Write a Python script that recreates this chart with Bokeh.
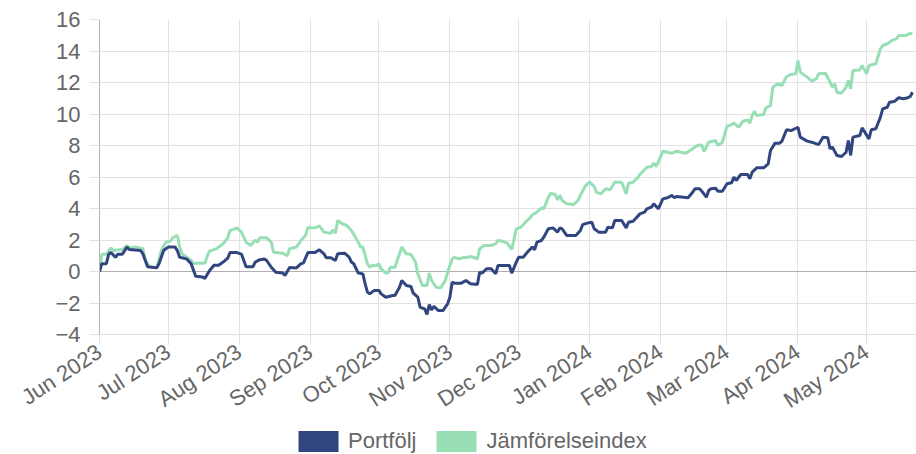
import pandas as pd
from bokeh.plotting import figure
from bokeh.layouts import column
from bokeh.models import ColumnDataSource, FixedTicker, Legend, LegendItem, Range1d, Grid
from bokeh.embed import file_html
from bokeh.resources import INLINE

# ---------------- data ----------------
portfolj_dates = [
    "2023-06-01", "2023-06-02", "2023-06-04", "2023-06-05", "2023-06-06", "2023-06-08", "2023-06-09",
    "2023-06-11", "2023-06-13", "2023-06-14", "2023-06-19", "2023-06-20", "2023-06-22", "2023-06-26",
    "2023-06-27", "2023-06-29", "2023-07-01", "2023-07-04", "2023-07-05", "2023-07-06", "2023-07-09",
    "2023-07-11", "2023-07-13", "2023-07-16", "2023-07-17", "2023-07-19", "2023-07-21", "2023-07-23",
    "2023-07-25", "2023-07-27", "2023-07-28", "2023-07-31", "2023-08-02", "2023-08-04", "2023-08-07",
    "2023-08-08", "2023-08-10", "2023-08-12", "2023-08-13", "2023-08-15", "2023-08-17", "2023-08-20",
    "2023-08-21", "2023-08-23", "2023-08-26", "2023-08-28", "2023-08-29", "2023-08-31", "2023-09-03",
    "2023-09-05", "2023-09-07", "2023-09-08", "2023-09-10", "2023-09-12", "2023-09-13", "2023-09-16",
    "2023-09-18", "2023-09-19", "2023-09-20", "2023-09-22", "2023-09-24", "2023-09-25", "2023-09-26",
    "2023-09-27", "2023-09-29", "2023-10-01", "2023-10-02", "2023-10-04", "2023-10-07", "2023-10-08",
    "2023-10-10", "2023-10-11", "2023-10-13", "2023-10-15", "2023-10-16", "2023-10-18", "2023-10-19",
    "2023-10-21", "2023-10-22", "2023-10-23", "2023-10-24", "2023-10-25", "2023-10-27", "2023-10-29",
    "2023-10-31", "2023-11-01", "2023-11-02", "2023-11-03", "2023-11-06", "2023-11-08", "2023-11-10",
    "2023-11-13", "2023-11-14", "2023-11-15", "2023-11-17", "2023-11-19", "2023-11-21", "2023-11-22",
    "2023-11-27", "2023-11-28", "2023-11-30", "2023-12-01", "2023-12-03", "2023-12-05", "2023-12-07",
    "2023-12-08", "2023-12-09", "2023-12-11", "2023-12-12", "2023-12-14", "2023-12-16", "2023-12-18",
    "2023-12-19", "2023-12-20", "2023-12-22", "2023-12-26", "2023-12-28", "2023-12-29", "2023-12-31",
    "2024-01-02", "2024-01-03", "2024-01-05", "2024-01-08", "2024-01-09", "2024-01-11", "2024-01-12",
    "2024-01-15", "2024-01-17", "2024-01-18", "2024-01-20", "2024-01-23", "2024-01-25", "2024-01-26",
    "2024-01-28", "2024-01-29", "2024-01-31", "2024-02-01", "2024-02-02", "2024-02-04", "2024-02-06",
    "2024-02-07", "2024-02-08", "2024-02-13", "2024-02-15", "2024-02-16", "2024-02-18", "2024-02-19",
    "2024-02-21", "2024-02-22", "2024-02-23", "2024-02-25", "2024-02-26", "2024-02-28", "2024-03-01",
    "2024-03-03", "2024-03-04", "2024-03-05", "2024-03-07", "2024-03-10", "2024-03-11", "2024-03-12",
    "2024-03-14", "2024-03-17", "2024-03-19", "2024-03-20", "2024-03-22", "2024-03-24", "2024-03-25",
    "2024-03-27", "2024-03-29", "2024-04-01", "2024-04-02", "2024-04-05", "2024-04-07", "2024-04-10",
    "2024-04-12", "2024-04-14", "2024-04-15", "2024-04-16", "2024-04-18", "2024-04-20", "2024-04-22",
    "2024-04-23", "2024-04-24", "2024-04-25", "2024-04-28", "2024-04-29", "2024-05-02", "2024-05-03",
    "2024-05-05", "2024-05-07", "2024-05-08", "2024-05-10", "2024-05-11", "2024-05-13", "2024-05-15",
    "2024-05-17", "2024-05-19", "2024-05-20", "2024-05-21",
]
portfolj_values = [
    0.0, 0.5, 0.5, 1.1, 1.2, 0.9, 1.1,
    1.1, 1.55, 1.4, 1.33, 1.1, 0.3, 0.23,
    0.5, 1.33, 1.55, 1.55, 1.33, 0.9, 0.8,
    0.5, -0.3, -0.35, -0.45, 0.05, 0.4, 0.4,
    0.6, 0.85, 1.2, 1.2, 1.1, 0.3, 0.3,
    0.6, 0.75, 0.8, 0.7, 0.27, -0.05, -0.1,
    -0.25, 0.25, 0.23, 0.5, 0.53, 1.2, 1.2,
    1.38, 1.12, 0.87, 0.87, 0.7, 1.12, 1.16,
    0.91, 0.6, 0.49, -0.1, -0.15, -0.78, -1.31,
    -1.42, -1.2, -1.2, -1.42, -1.63, -1.52, -1.52,
    -1.0, -0.57, -0.89, -0.95, -1.38, -1.63, -2.27,
    -2.37, -2.73, -2.1, -2.43, -2.22, -2.48, -2.48,
    -2.05, -1.63, -0.68, -0.74, -0.74, -0.57, -0.78,
    -0.83, -0.05, -0.1, 0.17, 0.17, -0.15, 0.38,
    0.38, -0.1, 0.6, 0.9, 0.9, 1.25, 1.55,
    1.38, 1.86, 1.97, 2.18, 2.71, 2.77, 2.5,
    2.77, 2.71, 2.29, 2.29, 2.6, 2.98, 3.07,
    3.13, 2.71, 2.5, 2.5, 2.81, 2.77, 3.24,
    3.24, 2.77, 3.13, 3.19, 3.66, 3.77, 3.98,
    4.09, 4.3, 3.98, 4.3, 4.61, 4.68, 4.83,
    4.68, 4.76, 4.68, 5.03, 5.25, 5.25, 5.1,
    4.72, 5.14, 5.25, 5.29, 5.1, 5.1, 5.57,
    5.63, 5.99, 5.78, 6.16, 6.16, 5.89, 6.31,
    6.58, 6.58, 6.84, 7.68, 8.15, 8.15, 8.28,
    9.0, 8.95, 9.16, 8.53, 8.28, 8.21, 8.06,
    8.53, 8.49, 7.79, 7.9, 7.37, 7.3, 7.57,
    8.32, 7.37, 8.53, 8.63, 9.12, 8.42, 9.0,
    9.06, 9.8, 10.32, 10.43, 10.75, 10.79, 11.03,
    10.97, 11.03, 11.11, 11.38,
]

index_dates = [
    "2023-06-01", "2023-06-02", "2023-06-04", "2023-06-06", "2023-06-07", "2023-06-11", "2023-06-13",
    "2023-06-14", "2023-06-17", "2023-06-20", "2023-06-21", "2023-06-23", "2023-06-26", "2023-06-28",
    "2023-06-30", "2023-07-02", "2023-07-03", "2023-07-05", "2023-07-06", "2023-07-07", "2023-07-11",
    "2023-07-12", "2023-07-17", "2023-07-18", "2023-07-19", "2023-07-22", "2023-07-25", "2023-07-27",
    "2023-07-28", "2023-07-31", "2023-08-02", "2023-08-04", "2023-08-06", "2023-08-08", "2023-08-09",
    "2023-08-10", "2023-08-13", "2023-08-15", "2023-08-16", "2023-08-20", "2023-08-22", "2023-08-23",
    "2023-08-26", "2023-08-28", "2023-08-30", "2023-08-31", "2023-09-03", "2023-09-05", "2023-09-07",
    "2023-09-10", "2023-09-11", "2023-09-12", "2023-09-13", "2023-09-15", "2023-09-17", "2023-09-19",
    "2023-09-22", "2023-09-23", "2023-09-24", "2023-09-26", "2023-09-27", "2023-09-28", "2023-09-30",
    "2023-10-01", "2023-10-02", "2023-10-04", "2023-10-05", "2023-10-06", "2023-10-08", "2023-10-09",
    "2023-10-11", "2023-10-13", "2023-10-15", "2023-10-17", "2023-10-18", "2023-10-20", "2023-10-22",
    "2023-10-23", "2023-10-24", "2023-10-26", "2023-10-28", "2023-10-30", "2023-10-31", "2023-11-02",
    "2023-11-03", "2023-11-05", "2023-11-07", "2023-11-08", "2023-11-10", "2023-11-12", "2023-11-13",
    "2023-11-14", "2023-11-16", "2023-11-19", "2023-11-21", "2023-11-22", "2023-11-24", "2023-11-26",
    "2023-11-28", "2023-11-30", "2023-12-02", "2023-12-04", "2023-12-06", "2023-12-07", "2023-12-09",
    "2023-12-11", "2023-12-12", "2023-12-14", "2023-12-15", "2023-12-17", "2023-12-18", "2023-12-19",
    "2023-12-20", "2023-12-22", "2023-12-25", "2023-12-27", "2023-12-28", "2023-12-30", "2024-01-01",
    "2024-01-03", "2024-01-04", "2024-01-06", "2024-01-08", "2024-01-10", "2024-01-12", "2024-01-15",
    "2024-01-17", "2024-01-18", "2024-01-20", "2024-01-22", "2024-01-23", "2024-01-26", "2024-01-28",
    "2024-01-29", "2024-01-30", "2024-01-31", "2024-02-02", "2024-02-04", "2024-02-06", "2024-02-08",
    "2024-02-10", "2024-02-12", "2024-02-15", "2024-02-17", "2024-02-19", "2024-02-20", "2024-02-22",
    "2024-02-25", "2024-02-26", "2024-02-28", "2024-03-01", "2024-03-03", "2024-03-04", "2024-03-06",
    "2024-03-08", "2024-03-10", "2024-03-11", "2024-03-12", "2024-03-13", "2024-03-14", "2024-03-17",
    "2024-03-18", "2024-03-20", "2024-03-21", "2024-03-23", "2024-03-25", "2024-03-27", "2024-03-29",
    "2024-03-31", "2024-04-01", "2024-04-02", "2024-04-05", "2024-04-07", "2024-04-09", "2024-04-10",
    "2024-04-13", "2024-04-15", "2024-04-16", "2024-04-17", "2024-04-18", "2024-04-20", "2024-04-22",
    "2024-04-23", "2024-04-24", "2024-04-25", "2024-04-28", "2024-04-29", "2024-05-01", "2024-05-02",
    "2024-05-05", "2024-05-07", "2024-05-08", "2024-05-10", "2024-05-12", "2024-05-14", "2024-05-15",
    "2024-05-18", "2024-05-20", "2024-05-21",
]
index_values = [
    0.0, 1.1, 1.1, 1.5, 1.33, 1.4, 1.65,
    1.5, 1.55, 1.45, 0.7, 0.3, 0.25, 1.33,
    1.86, 1.93, 2.14, 2.3, 1.55, 1.13, 0.7,
    0.53, 0.53, 0.95, 1.29, 1.44, 1.76, 2.14,
    2.6, 2.77, 2.5, 1.86, 1.65, 2.0, 1.86,
    2.14, 2.14, 1.86, 1.22, 1.16, 1.0, 1.44,
    1.55, 1.97, 2.3, 2.8, 2.77, 2.9, 2.5,
    2.43, 2.64, 2.43, 3.24, 3.03, 2.92, 2.6,
    1.86, 1.55, 1.55, 0.49, 0.27, 0.38, 0.38,
    0.49, 0.17, -0.1, -0.1, 0.27, 0.27, 0.7,
    1.55, 1.12, 1.08, 0.6, -0.15, -0.89, -0.89,
    -0.1, -0.57, -1.0, -1.04, -0.57, -0.05, 0.8,
    0.9, 0.8, 0.9, 0.87, 0.95, 0.87, 0.8,
    1.44, 1.65, 1.65, 1.76, 1.97, 1.92, 1.8,
    1.4, 2.71, 2.81, 3.13, 3.41, 3.6, 3.77,
    4.04, 3.98, 4.72, 4.97, 4.89, 4.55, 4.83,
    4.51, 4.3, 4.25, 4.51, 4.83, 5.4, 5.67,
    5.4, 5.03, 4.93, 5.25, 5.19, 5.67, 5.67,
    4.93, 5.6, 5.67, 5.95, 6.16, 6.62, 6.67,
    6.88, 6.67, 6.94, 7.64, 7.57, 7.51, 7.64,
    7.57, 7.51, 7.79, 8.0, 8.03, 7.62, 8.21,
    8.32, 8.0, 8.21, 9.21, 9.33, 9.42, 9.16,
    9.54, 9.63, 9.42, 9.9, 10.18, 9.9, 9.97,
    10.39, 10.54, 11.7, 11.92, 11.81, 12.38, 12.51,
    12.55, 13.4, 12.66, 12.34, 12.08, 12.23, 12.55,
    12.59, 12.02, 11.7, 11.92, 11.38, 11.32, 11.7,
    12.13, 11.6, 12.76, 12.8, 13.08, 12.55, 13.08,
    13.19, 14.14, 14.35, 14.46, 14.67, 14.77, 14.98,
    14.98, 15.13, 15.1,
]

month_starts = ["2023-06-01", "2023-07-01", "2023-08-01", "2023-09-01", "2023-10-01", "2023-11-01",
                "2023-12-01", "2024-01-01", "2024-02-01", "2024-03-01", "2024-04-01", "2024-05-01"]
month_labels = ["Jun 2023", "Jul 2023", "Aug 2023", "Sep 2023", "Oct 2023", "Nov 2023",
                "Dec 2023", "Jan 2024", "Feb 2024", "Mar 2024", "Apr 2024", "May 2024"]
y_ticks = [-4, -2, 0, 2, 4, 6, 8, 10, 12, 14, 16]

series_names = ["Portfölj", "Jämförelseindex"]
series_colors = ["#31457f", "#98dfb6"]

# ---------------- figure ----------------
FONT = "Liberation Sans"
TXT = "#666666"
GRID = "#e1e1e1"

src_p = ColumnDataSource(dict(x=pd.to_datetime(portfolj_dates), y=portfolj_values))
src_i = ColumnDataSource(dict(x=pd.to_datetime(index_dates), y=index_values))

x_start = pd.Timestamp(month_starts[0])
x_end = pd.Timestamp("2024-05-22 18:00")

p = figure(frame_width=817, frame_height=315, x_axis_type="datetime",
           x_range=Range1d(x_start, x_end), y_range=Range1d(y_ticks[0], y_ticks[-1]),
           output_backend="svg", toolbar_location=None,
           min_border_left=99, min_border_right=0, min_border_top=19, min_border_bottom=94)
p.outline_line_color = None
p.background_fill_color = "white"
p.border_fill_color = "white"

ln_i = p.line("x", "y", source=src_i, line_color=series_colors[1], line_width=3)
ln_p = p.line("x", "y", source=src_p, line_color=series_colors[0], line_width=3)

# ticks
tick_ms = [pd.Timestamp(d).value / 1e6 for d in month_starts]
p.xaxis.ticker = FixedTicker(ticks=tick_ms)
p.xaxis.major_label_overrides = {t: lab for t, lab in zip(tick_ms, month_labels)}
p.yaxis.ticker = FixedTicker(ticks=y_ticks)

for ax in (p.xaxis[0], p.yaxis[0]):
    ax.major_label_text_font = FONT
    ax.major_label_text_font_size = "22px"
    ax.major_label_text_color = TXT
    ax.major_tick_line_color = GRID
    ax.major_tick_out = 10
    ax.major_tick_in = 0
    ax.minor_tick_line_color = None
    ax.major_label_standoff = 9

p.xaxis.axis_line_color = GRID
p.yaxis.axis_line_color = "#b5b5b5"
p.xaxis.major_label_orientation = 0.58
p.xaxis.major_label_standoff = 5

p.xgrid.grid_line_color = GRID
p.ygrid.grid_line_color = GRID
p.xgrid.ticker = FixedTicker(ticks=tick_ms)
p.ygrid.ticker = FixedTicker(ticks=y_ticks)

zero_grid = Grid(dimension=1, ticker=FixedTicker(ticks=[0]), grid_line_color="#b0b0b0")
p.add_layout(zero_grid)

# ---------------- legend strip ----------------
lg = figure(width=916, height=26, output_backend="svg", toolbar_location=None,
            x_axis_location=None, y_axis_location=None,
            min_border_left=0, min_border_right=0, min_border_top=0, min_border_bottom=0)
lg.outline_line_color = None
lg.xgrid.visible = False
lg.ygrid.visible = False
lg.background_fill_color = "white"
lg.border_fill_color = "white"

# zero-size rects on the series data: visible only as legend swatches
sw_p = lg.rect(x="x", y="y", width=0, height=0, source=src_p,
               fill_color=series_colors[0], line_color=None)
sw_i = lg.rect(x="x", y="y", width=0, height=0, source=src_i,
               fill_color=series_colors[1], line_color=None)
legend = Legend(items=[LegendItem(label=series_names[0], renderers=[sw_p]),
                       LegendItem(label=series_names[1], renderers=[sw_i])],
                orientation="horizontal", location=(194, 0),
                glyph_width=50, glyph_height=26, label_standoff=5, spacing=15,
                label_text_font=FONT, label_text_font_size="22px", label_text_color=TXT,
                border_line_color=None, background_fill_alpha=0,
                padding=0, margin=0)
lg.add_layout(legend, "center")

layout = column(p, lg, spacing=0)
open("out.html", "w").write(file_html(layout, INLINE))
